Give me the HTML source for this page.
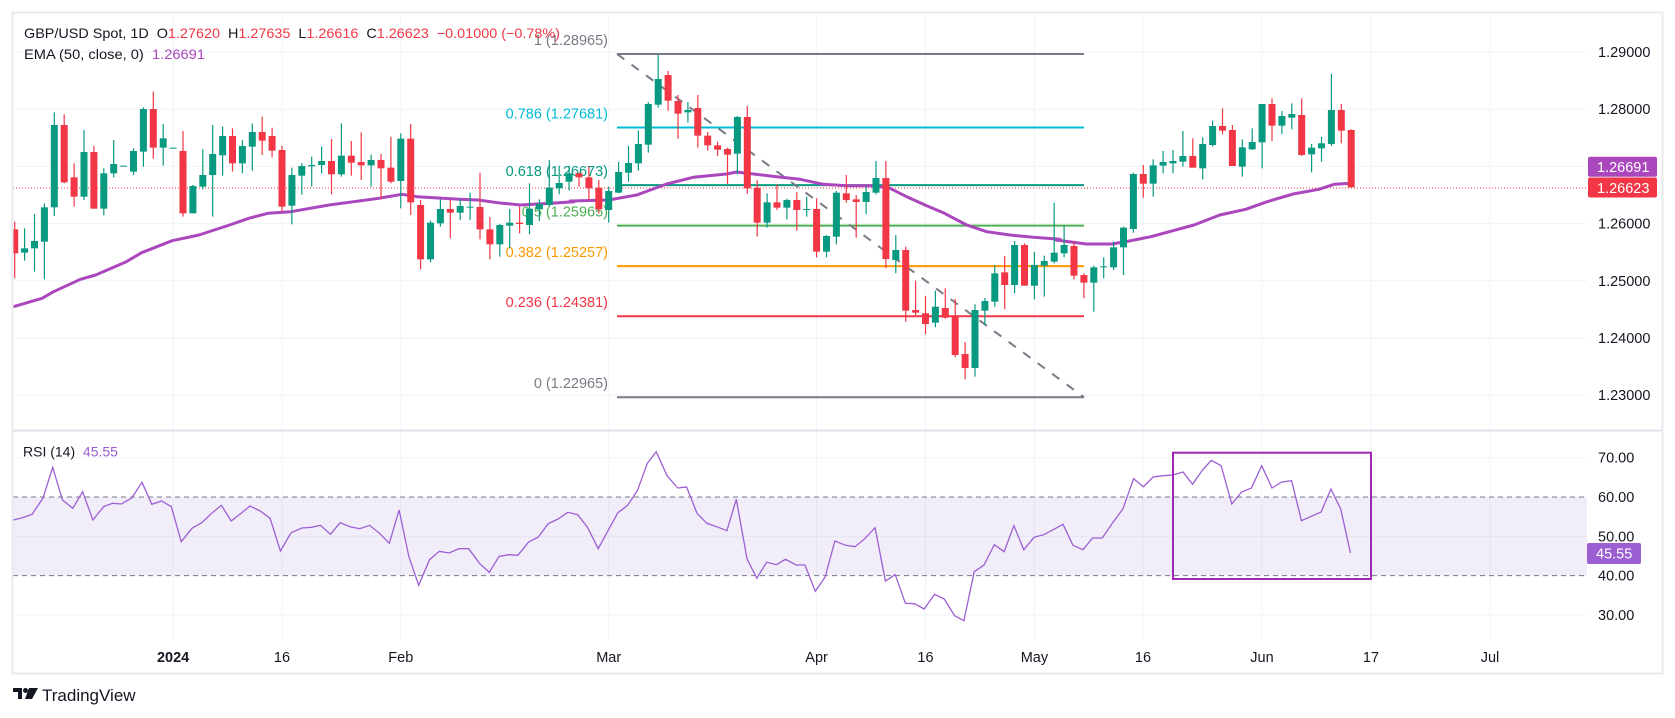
<!DOCTYPE html>
<html><head><meta charset="utf-8"><style>
html,body{margin:0;padding:0;background:#fff;}
svg{display:block;font-family:"Liberation Sans","DejaVu Sans",sans-serif;}
</style></head><body>
<svg id="s" width="1675" height="718" viewBox="0 0 1675 718" xmlns="http://www.w3.org/2000/svg">
<rect x="0" y="0" width="1675" height="718" fill="#fff"/>
<g id="grid"></g>
<g id="fib"></g>
<g id="ema"></g>
<g id="candles"></g>
<g id="rsi"></g>
<g id="labels"></g>
<!-- frame -->
<rect x="12.5" y="12.5" width="1650" height="661" fill="none" stroke="#e8eaef" stroke-width="2"/>
<line x1="13" y1="430.5" x2="1662" y2="430.5" stroke="#e0e3eb" stroke-width="2"/>
<!-- legend -->
<text x="24" y="38" font-size="14" fill="#131722" textLength="536" lengthAdjust="spacingAndGlyphs" xml:space="preserve">GBP/USD Spot, 1D  O<tspan fill="#f23645">1.27620</tspan>  H<tspan fill="#f23645">1.27635</tspan>  L<tspan fill="#f23645">1.26616</tspan>  C<tspan fill="#f23645">1.26623</tspan>  <tspan fill="#f23645">−0.01000 (−0.78%)</tspan></text>
<text x="24" y="59" font-size="14" fill="#131722" textLength="181" lengthAdjust="spacingAndGlyphs" xml:space="preserve">EMA (50, close, 0)  <tspan fill="#ab47bc">1.26691</tspan></text>
<text x="23" y="456.5" font-size="14" fill="#131722" xml:space="preserve">RSI (14)  <tspan fill="#9c5fd3">45.55</tspan></text>
<!-- logo -->
<g transform="translate(13,688)">
<path d="M0 0 H9 V11 H5 V4 H0 Z" fill="#131722"/>
<circle cx="12.5" cy="2.5" r="2.5" fill="#131722"/>
<path d="M16 0 H25 L19 11 H12 Z" fill="#131722"/>
</g>
<text x="42" y="701" font-size="17" fill="#131722">TradingView</text>
<script>
(function(){
var NS="http://www.w3.org/2000/svg";
function el(p,t,a,txt){var e=document.createElementNS(NS,t);for(var k in a)e.setAttribute(k,a[k]);if(txt!=null)e.textContent=txt;document.getElementById(p).appendChild(e);return e;}
var L=13,R=1587;
function py(p){return 52+(1.29-p)*5720;}
function ry(r){return 536.3-(r-50)*3.93;}
function xi(i){return 608.7+i*9.9;}
// horizontal grid main
for(var k=0;k<7;k++){var y=py(1.29-k*0.01);el("grid","line",{x1:L,x2:R,y1:y,y2:y,stroke:"#f0f3fa","stroke-width":1});
 el("labels","text",{x:1598,y:y+5,"font-size":14.5,fill:"#131722"},(1.29-k*0.01).toFixed(5));}
// vertical grid + time labels
var vt=[[173.1,"2024",1],[282,"16"],[400.8,"Feb"],[608.7,"Mar"],[816.6,"Apr"],[925.5,"16"],[1034.4,"May"],[1143,"16"],[1262,"Jun"],[1371,"17"],[1490,"Jul"]];
vt.forEach(function(v){el("grid","line",{x1:v[0],x2:v[0],y1:13,y2:640,stroke:"#f0f3fa","stroke-width":1});
 var t=el("labels","text",{x:v[0],y:662,"font-size":14.5,fill:"#131722","text-anchor":"middle"},v[1]);if(v[2])t.setAttribute("font-weight","bold");});
// RSI grid
[70,50,30].forEach(function(r){var y=ry(r);el("grid","line",{x1:L,x2:R,y1:y,y2:y,stroke:"#f0f3fa"});});
el("grid","rect",{x:L,y:ry(60),width:R-L,height:ry(40)-ry(60),fill:"rgba(126,87,194,0.1)"});
[60,40].forEach(function(r){var y=ry(r);el("grid","line",{x1:L,x2:R,y1:y,y2:y,stroke:"#787b86","stroke-dasharray":"5,4"});});
[70,60,50,40,30].forEach(function(r){el("labels","text",{x:1598,y:ry(r)+5,"font-size":14.5,fill:"#131722"},r.toFixed(2));});
// fib
var fib=[[1.28965,"1 (1.28965)","#787b86"],[1.27681,"0.786 (1.27681)","#00bcd4"],[1.26673,"0.618 (1.26673)","#089981"],[1.25965,"0.5 (1.25965)","#4caf50"],[1.25257,"0.382 (1.25257)","#ff9800"],[1.24381,"0.236 (1.24381)","#f23645"],[1.22965,"0 (1.22965)","#787b86"]];
fib.forEach(function(f,j){var y=py(f[0]);el("fib","line",{x1:617,x2:1084,y1:y,y2:y,stroke:f[2],"stroke-width":2});
 el("fib","text",{x:608,y:j==0?45:y-9,"font-size":14.5,fill:f[2],"text-anchor":"end"},f[1]);});
el("fib","line",{x1:617,y1:py(1.28965),x2:1084,y2:py(1.22965),stroke:"#787b86","stroke-width":2,"stroke-dasharray":"9,9"});
// last price dotted
el("fib","line",{x1:L,x2:R,y1:188,y2:188,stroke:"#f23645","stroke-width":1,"stroke-dasharray":"1,2"});
// EMA
var e1=[[35,920],[110,895],[140,875],[210,838],[250,825],[330,785],[370,758],[450,722],[520,705],[600,675],[650,655],[700,640],[760,635],[860,615],[990,595],[1050,583],[1090,590],[1200,598],[1250,600],[1300,608],[1360,615],[1440,610],[1500,605]];
var e2=[[30,483],[146,480],[230,465],[320,432],[400,412],[500,402],[530,396],[580,402],[650,410],[720,418],[790,433],[860,437],[940,437],[990,445],[1040,470],[1100,497],[1150,518],[1220,555],[1280,575],[1350,585],[1420,592],[1500,598]];
var e3=[[130,600],[200,612],[260,612],[300,603],[350,590],[450,555],[510,525],[570,508],[620,485],[680,462],[740,448],[775,433],[816,430]];
var pts=[];
e1.forEach(function(p){pts.push([p[0]/2.613,p[1]/3]);});
e2.forEach(function(p){pts.push([560+p[0]/3,40+p[1]/3]);});
e3.forEach(function(p){pts.push([1000+p[0]/2.32,40+p[1]/3]);});
el("ema","polyline",{points:pts.map(function(p){return p[0].toFixed(1)+","+p[1].toFixed(1);}).join(" "),fill:"none",stroke:"#ab47bc","stroke-width":3,"stroke-linejoin":"round"});
// candles: [color, bodyTop, bodyBot, wickTop, wickBot]
var c1=[["r",688,760,665,835],["g",745,758,685,782],["g",723,745,642,815],["g",622,725,610,838],["g",375,622,337,648],["r",375,547,343,550],["r",532,590,490,620],["g",456,590,390,600],["r",456,626,438,626],["g",520,626,505,646],["g",492,520,420,532],["g",497,499,497,499],["g",453,515,445,525],["g",327,455,322,500],["r",327,443,275,476],["g",415,443,372,497],["g",443,445,443,445],["r",453,640,393,650],["g",558,640,555,640],["g",525,560,448,568],["g",462,525,375,650],["g",408,466,380,527],["r",408,490,385,515],["g",438,490,420,520],["g",396,440,370,512],["r",396,422,350,465],["r",408,452,383,472],["r",450,620,437,635],["g",525,617,503,673],["g",498,527,490,584],["g",495,499,470,560],["g",483,495,440,520],["r",483,523,417,583],["g",467,523,370,530],["r",467,488,423,527],["r",486,496,397,540],["g",480,496,464,560],["r",480,505,462,597],["r",503,545,410,550],["g",416,543,400,625],["r",416,607,372,645],["r",615,778,600,808],["g",668,778,662,787],["g",627,670,598,680],["r",627,638,600,715],["g",618,638,598,660],["g",620,622,578,660],["r",621,688,518,718],["r",688,733,651,778],["g",675,733,672,770],["g",668,677,627,745],["r",668,672,620,700],["g",626,675,550,703],["g",612,628,598,663],["g",563,615,480,618],["g",549,565,497,583],["g",520,545,497,572],["r",520,532,518,560],["r",532,565,500,600],["r",563,628,540,640]];
var c2=[["g",453,510,440,548],["g",396,458,366,460],["g",369,398,318,425],["g",312,370,272,392],["g",192,314,186,338],["g",117,194,45,203],["r",105,182,93,212],["r",183,221,165,296],["g",210,217,186,248],["r",204,287,165,323],["r",287,316,276,332],["r",316,329,305,348],["r",327,344,323,432],["g",231,341,228,403],["r",231,445,198,462],["r",443,548,420,590],["g",487,548,460,563],["r",487,503,433,510],["g",480,503,476,538],["r",480,510,456,572],["g",507,509,470,530],["r",507,635,475,652],["g",588,635,585,652],["g",458,590,453,613],["r",460,480,405,488],["r",478,486,465,593],["g",456,486,440,523],["g",414,458,363,463],["r",414,657,363,685],["g",630,660,585,700],["r",630,812,620,845],["r",810,818,722,825],["r",820,852,768,883],["g",800,848,752,862],["r",804,833,745,836],["r",826,945,777,952],["r",942,984,906,1018],["g",810,984,793,1010],["g",783,812,774,855],["g",700,785,675,800],["r",697,735,648,808],["g",615,735,603,760],["r",615,737,610,737],["g",675,737,636,778],["g",663,677,647,770],["g",638,665,488,670]];
var c3=[["g",615,640,557,652],["r",618,707,605,718],["r",705,728,700,775],["g",682,728,677,815],["g",679,681,652,715],["g",622,682,605,690],["g",563,622,560,705],["g",402,567,398,578],["r",402,431,375,473],["g",376,431,358,470],["g",366,377,333,400],["g",363,370,330,400],["g",348,365,273,380],["r",348,383,295,383],["g",312,385,292,418],["g",258,315,242,320],["r",258,272,205,283],["r",270,378,255,378],["g",322,380,298,410],["g",306,328,265,330],["g",192,307,192,385],["r",192,257,175,303],["g",228,257,213,282],["g",222,233,190,268],["r",225,345,175,348],["g",323,343,312,397],["g",310,325,290,365],["g",210,312,102,318],["r",210,272,192,310],["r",270,442,268,442]];
var clip=el("candles","clipPath",{id:"cp"});var cr=document.createElementNS(NS,"rect");cr.setAttribute("x",L);cr.setAttribute("y",13);cr.setAttribute("width",R-L);cr.setAttribute("height",417);clip.appendChild(cr);
var g=el("candles","g",{"clip-path":"url(#cp)",id:"cg"});
function draw(i,c,off,sc){var x=xi(i);var col=c[0]=="g"?"#089981":"#f23645";
 var bt=off+c[1]/sc,bb=off+c[2]/sc,wt=off+c[3]/sc,wb=off+c[4]/sc;
 el("cg","line",{x1:x,x2:x,y1:wt,y2:wb,stroke:col,"stroke-width":1.2});
 el("cg","rect",{x:x-3.5,y:bt,width:7,height:Math.max(1,bb-bt),fill:col});}
c1.forEach(function(c,k){draw(k-60,c,0,3);});
c2.forEach(function(c,k){draw(k,c,40,3);});
c3.forEach(function(c,k){draw(46+k,c,40,3);});
// RSI line
var r4=[[30,360],[50,353],[72,343],[96,295],[118,202],[140,300],[163,325],[185,275],[208,360],[232,320],[252,310],[272,312],[295,294],[318,247],[340,313],[362,303],[384,320],[406,425],[430,385],[452,368],[474,340],[496,316],[518,363],[540,340],[560,318],[584,334],[605,355],[628,453],[652,398],[676,384],[698,382],[718,376],[740,403],[762,368],[784,380],[806,386],[828,376],[850,400],[872,430],[894,330],[916,470],[938,556],[962,479],[984,454],[1006,459],[1028,446],[1050,446],[1074,490],[1096,517],[1118,469],[1140,464],[1160,466],[1184,426],[1206,411],[1228,371],[1250,357],[1272,337],[1294,344],[1316,382],[1340,446],[1362,392],[1384,338],[1406,316],[1428,271],[1450,190],[1470,155],[1494,227],[1518,264],[1538,261]];
var r5=[[38,340],[60,370],[82,380],[105,392],[126,298],[150,476],[172,535],[194,487],[216,494],[236,478],[260,495],[280,495],[303,574],[325,531],[347,423],[371,436],[392,440],[414,416],[437,383],[460,543],[482,524],[505,610],[525,611],[547,627],[570,583],[592,597],[615,647],[636,662],[659,515],[681,495],[704,434],[726,455],[748,377],[770,449],[793,412],[815,404],[836,389],[858,373],[880,436],[903,449],[924,414],[946,414],[970,367],[992,327],[1016,236],[1038,260],[1060,231],[1082,227],[1104,225],[1127,216],[1148,253],[1170,211],[1190,181],[1212,197],[1236,312],[1258,276],[1280,264],[1303,197],[1326,264],[1348,246],[1370,242],[1392,362],[1414,349],[1436,336],[1458,267],[1480,327],[1502,459]];
var rp=[];r4.forEach(function(p){rp.push([p[0]/2.24,400+p[1]/3]);});r5.forEach(function(p){rp.push([680+p[0]/2.24,400+p[1]/3]);});
el("rsi","polyline",{points:rp.map(function(p){return p[0].toFixed(1)+","+p[1].toFixed(1);}).join(" "),fill:"none",stroke:"#9c5fd3","stroke-width":1.3});
el("rsi","rect",{x:1173,y:452.7,width:198,height:126.3,fill:"none",stroke:"#9c27b0","stroke-width":2});
// price badges
el("labels","rect",{x:1588,y:156.7,width:69,height:20,fill:"#ab47bc",rx:2});
el("labels","text",{x:1597,y:172,"font-size":14.5,fill:"#fff"},"1.26691");
el("labels","rect",{x:1588,y:177.5,width:69,height:20,fill:"#f23645",rx:2});
el("labels","text",{x:1597,y:193,"font-size":14.5,fill:"#fff"},"1.26623");
el("labels","rect",{x:1587,y:543,width:54,height:21,fill:"#9c5fd3",rx:2});
el("labels","text",{x:1596,y:558.5,"font-size":14.5,fill:"#fff"},"45.55");
})();
</script>
</svg>
</body></html>
